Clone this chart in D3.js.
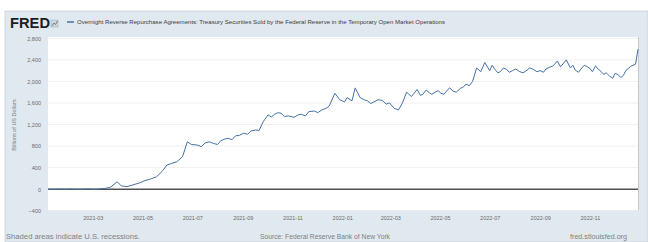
<!DOCTYPE html>
<html><head><meta charset="utf-8">
<script src="https://cdn.jsdelivr.net/npm/d3@7"></script>
<style>html,body{margin:0;padding:0;background:#fff;}svg{display:block;font-family:"Liberation Sans",Arial,sans-serif;}</style>
</head><body>
<script>
const title = "Overnight Reverse Repurchase Agreements: Treasury Securities Sold by the Federal Reserve in the Temporary Open Market Operations";
const yTitle = "Billions of US Dollars";
const footLeft = "Shaded areas indicate U.S. recessions.";
const footMid = "Source: Federal Reserve Bank of New York";
const footRight = "fred.stlouisfed.org";
const yTicks = [-400, 0, 400, 800, 1200, 1600, 2000, 2400, 2800];
const xTicks = ["2021-03","2021-05","2021-07","2021-09","2021-11","2022-01","2022-03","2022-05","2022-07","2022-09","2022-11"];
const dates = ["2021-01-05","2021-01-12","2021-01-19","2021-01-26","2021-02-02","2021-02-09","2021-02-16","2021-02-23","2021-03-02","2021-03-09","2021-03-16","2021-03-23","2021-03-31","2021-04-05","2021-04-12","2021-04-19","2021-04-27","2021-05-04","2021-05-11","2021-05-18","2021-05-25","2021-05-31","2021-06-06","2021-06-12","2021-06-19","2021-06-25","2021-06-30","2021-07-07","2021-07-12","2021-07-17","2021-07-22","2021-07-27","2021-08-01","2021-08-05","2021-08-10","2021-08-14","2021-08-19","2021-08-23","2021-08-28","2021-09-02","2021-09-07","2021-09-11","2021-09-17","2021-09-21","2021-09-26","2021-10-02","2021-10-06","2021-10-10","2021-10-14","2021-10-18","2021-10-22","2021-10-27","2021-11-03","2021-11-08","2021-11-12","2021-11-17","2021-11-21","2021-11-28","2021-12-02","2021-12-07","2021-12-12","2021-12-16","2021-12-23","2021-12-29","2022-01-04","2022-01-07","2022-01-13","2022-01-17","2022-01-23","2022-01-28","2022-02-01","2022-02-05","2022-02-09","2022-02-14","2022-02-19","2022-02-24","2022-02-28","2022-03-06","2022-03-11","2022-03-16","2022-03-21","2022-03-27","2022-04-03","2022-04-07","2022-04-10","2022-04-14","2022-04-18","2022-04-21","2022-04-25","2022-04-29","2022-05-02","2022-05-06","2022-05-10","2022-05-13","2022-05-17","2022-05-21","2022-05-26","2022-05-30","2022-06-02","2022-06-06","2022-06-10","2022-06-15","2022-06-20","2022-06-25","2022-07-01","2022-07-04","2022-07-07","2022-07-11","2022-07-14","2022-07-18","2022-07-22","2022-07-25","2022-07-29","2022-08-02","2022-08-07","2022-08-11","2022-08-16","2022-08-19","2022-08-23","2022-08-28","2022-09-01","2022-09-05","2022-09-08","2022-09-12","2022-09-17","2022-09-22","2022-09-26","2022-10-03","2022-10-08","2022-10-11","2022-10-14","2022-10-18","2022-10-21","2022-10-25","2022-10-28","2022-11-01","2022-11-04","2022-11-08","2022-11-11","2022-11-15","2022-11-18","2022-11-21","2022-11-25","2022-11-29","2022-12-02","2022-12-06","2022-12-09","2022-12-12","2022-12-15","2022-12-21","2022-12-27","2022-12-30"];
const values = [2,0,3,1,4,0,2,5,1,6,15,40,140,60,50,80,115,160,190,230,330,450,480,510,600,880,830,820,790,860,880,850,830,900,930,945,920,990,1000,1040,1020,1080,1100,1090,1250,1380,1340,1390,1420,1410,1350,1360,1335,1380,1390,1360,1440,1450,1420,1470,1500,1540,1780,1660,1620,1700,1640,1880,1700,1660,1640,1590,1620,1660,1650,1580,1600,1500,1470,1600,1800,1720,1850,1740,1760,1840,1790,1760,1800,1830,1780,1760,1840,1880,1820,1800,1870,1900,1950,1920,2000,2250,2180,2350,2200,2300,2230,2160,2180,2250,2220,2170,2200,2230,2180,2160,2210,2250,2230,2180,2200,2170,2230,2260,2290,2380,2270,2400,2250,2300,2210,2170,2230,2300,2280,2240,2180,2290,2230,2180,2130,2160,2100,2060,2150,2120,2070,2110,2200,2280,2320,2600];

const W = 648, H = 242;
const plot = {l: 48, r: 638, t: 37, b: 210};
const parse = d3.utcParse("%Y-%m-%d");
const parseM = d3.utcParse("%Y-%m");
const data = dates.map((d, i) => ({date: parse(d), v: values[i]}));

const svg = d3.select("body").append("svg").attr("width", W).attr("height", H);

svg.append("rect").attr("x", 5).attr("y", 11).attr("width", W - 5).attr("height", H - 11)
  .attr("fill", "#e1e9f0").attr("stroke", "#c9ced4").attr("stroke-width", 0.8);
svg.append("rect").attr("x", plot.l).attr("y", plot.t).attr("width", plot.r - plot.l).attr("height", plot.b - plot.t)
  .attr("fill", "#fff");
svg.append("line").attr("x1", plot.r + 0.5).attr("x2", plot.r + 0.5).attr("y1", plot.t).attr("y2", plot.b)
  .attr("stroke", "#c3c9cf").attr("stroke-width", 1);

const x = d3.scaleUtc().domain([parse("2021-01-05"), parse("2022-12-30")]).range([plot.l, plot.r]);
const y = d3.scaleLinear().domain([-400, 2800]).range([210.8, 38.3]);

svg.append("g").selectAll("line").data(yTicks.filter(t => t !== 0)).join("line")
  .attr("x1", plot.l).attr("x2", plot.r).attr("y1", d => y(d)).attr("y2", d => y(d))
  .attr("stroke", "#ececec").attr("stroke-width", 0.8);

const yAxis = d3.axisLeft(y).tickValues(yTicks).tickSize(0).tickPadding(0).tickFormat(d3.format(","));
const gy = svg.append("g").attr("transform", "translate(41,0)").call(yAxis);
gy.select(".domain").remove();
gy.selectAll("text").attr("font-size", 5.5).attr("fill", "#6a6a6a").attr("font-family", "Liberation Sans, Arial, sans-serif");

const xAxis = d3.axisBottom(x).tickValues(xTicks.map(parseM)).tickSize(0).tickPadding(0).tickFormat(d3.utcFormat("%Y-%m"));
const gx = svg.append("g").attr("transform", "translate(0,216)").call(xAxis);
gx.select(".domain").remove();
gx.selectAll("text").attr("font-size", 5.5).attr("fill", "#6a6a6a").attr("font-family", "Liberation Sans, Arial, sans-serif");

svg.append("line").attr("x1", plot.l).attr("x2", plot.r).attr("y1", y(0)).attr("y2", y(0))
  .attr("stroke", "#505050").attr("stroke-width", 1.6);

const line = d3.line().x(d => x(d.date)).y(d => y(d.v));
svg.append("path").datum(data).attr("d", line).attr("fill", "none")
  .attr("stroke", "#4572a7").attr("stroke-width", 1).attr("stroke-linejoin", "round");

svg.append("text").attr("transform", "translate(16,125) rotate(-90)").attr("text-anchor", "middle")
  .attr("font-size", 5.5).attr("fill", "#777").text(yTitle);

svg.append("text").attr("x", 10).attr("y", 28).attr("font-size", 14).attr("font-weight", 900)
  .attr("fill", "#1e1e1e").attr("textLength", 40).attr("lengthAdjust", "spacingAndGlyphs").text("FRED");
const ic = svg.append("g").attr("transform", "translate(51,20)");
ic.append("rect").attr("width", 7).attr("height", 7).attr("fill", "#cfd8e1").attr("stroke", "#9aa6b2").attr("stroke-width", 0.5);
ic.append("polyline").attr("points", "1,6 3,3 4.5,4.5 6.5,1").attr("fill", "none").attr("stroke", "#555").attr("stroke-width", 0.7);
svg.append("line").attr("x1", 67).attr("x2", 74).attr("y1", 22).attr("y2", 22).attr("stroke", "#4572a7").attr("stroke-width", 1.5);
svg.append("text").attr("x", 77).attr("y", 24).attr("font-size", 6).attr("fill", "#3a3a3a")
  .attr("textLength", 368).attr("lengthAdjust", "spacingAndGlyphs").text(title);

svg.append("text").attr("x", 6).attr("y", 239).attr("font-size", 6.5).attr("fill", "#808080")
  .attr("textLength", 134).attr("lengthAdjust", "spacingAndGlyphs").text(footLeft);
svg.append("text").attr("x", 260).attr("y", 239).attr("font-size", 6.5).attr("fill", "#808080")
  .attr("textLength", 130).attr("lengthAdjust", "spacingAndGlyphs").text(footMid);
svg.append("text").attr("x", 570).attr("y", 239).attr("font-size", 6.5).attr("fill", "#808080")
  .attr("textLength", 57).attr("lengthAdjust", "spacingAndGlyphs").text(footRight);
</script>
</body></html>
